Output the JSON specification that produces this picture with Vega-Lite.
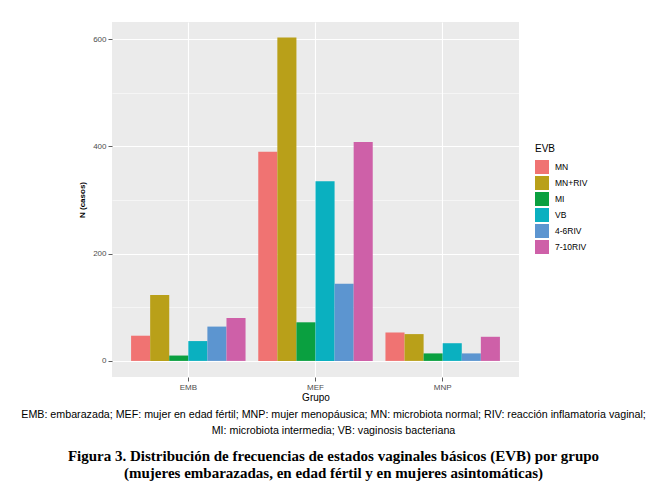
{
  "$schema": "https://vega.github.io/schema/vega-lite/v6.json",
  "autosize": "none",
  "width": 407,
  "height": 355,
  "padding": {"left": 112, "top": 22, "right": 143, "bottom": 110},
  "background": "white",
  "title": {
    "text": ["EMB: embarazada; MEF: mujer en edad fértil; MNP: mujer menopáusica; MN: microbiota normal; RIV: reacción inflamatoria vaginal;", "MI: microbiota intermedia; VB: vaginosis bacteriana"],
    "subtitle": ["Figura 3. Distribución de frecuencias de estados vaginales básicos (EVB) por grupo", "(mujeres embarazadas, en edad fértil y en mujeres asintomáticas)"],
    "orient": "bottom",
    "anchor": "middle",
    "frame": "group",
    "dx": 18,
    "offset": 8,
    "font": "Liberation Sans",
    "fontSize": 10.7,
    "fontWeight": "normal",
    "color": "#000000",
    "lineHeight": 16,
    "subtitleFont": "Liberation Serif",
    "subtitleFontSize": 15,
    "subtitleFontWeight": "bold",
    "subtitleColor": "#000000",
    "subtitleLineHeight": 17,
    "subtitlePadding": 12
  },
  "data": {
    "values": [
      {"Grupo": "EMB", "EVB": "MN", "N": 47},
      {"Grupo": "EMB", "EVB": "MN+RIV", "N": 123},
      {"Grupo": "EMB", "EVB": "MI", "N": 10},
      {"Grupo": "EMB", "EVB": "VB", "N": 37},
      {"Grupo": "EMB", "EVB": "4-6RIV", "N": 64},
      {"Grupo": "EMB", "EVB": "7-10RIV", "N": 80},
      {"Grupo": "MEF", "EVB": "MN", "N": 390},
      {"Grupo": "MEF", "EVB": "MN+RIV", "N": 603},
      {"Grupo": "MEF", "EVB": "MI", "N": 72},
      {"Grupo": "MEF", "EVB": "VB", "N": 335},
      {"Grupo": "MEF", "EVB": "4-6RIV", "N": 144},
      {"Grupo": "MEF", "EVB": "7-10RIV", "N": 408},
      {"Grupo": "MNP", "EVB": "MN", "N": 53},
      {"Grupo": "MNP", "EVB": "MN+RIV", "N": 50},
      {"Grupo": "MNP", "EVB": "MI", "N": 14},
      {"Grupo": "MNP", "EVB": "VB", "N": 33},
      {"Grupo": "MNP", "EVB": "4-6RIV", "N": 14},
      {"Grupo": "MNP", "EVB": "7-10RIV", "N": 45}
    ]
  },
  "mark": {"type": "bar"},
  "encoding": {
    "x": {
      "field": "Grupo",
      "type": "nominal",
      "scale": {"paddingInner": 0.1, "paddingOuter": 0.15},
      "axis": {
        "title": "Grupo",
        "labelAngle": 0,
        "grid": true,
        "bandPosition": 0.5,
        "gridColor": "#FFFFFF",
        "gridWidth": 1.1,
        "domain": false,
        "ticks": true,
        "tickColor": "#333333",
        "tickSize": 4,
        "tickWidth": 0.8,
        "labelFont": "Liberation Sans",
        "labelFontSize": 8,
        "labelColor": "#4D4D4D",
        "labelPadding": 2,
        "titleFont": "Liberation Sans",
        "titleFontSize": 10,
        "titleFontWeight": "normal",
        "titleColor": "#000000",
        "titlePadding": 1
      }
    },
    "xOffset": {
      "field": "EVB",
      "type": "nominal",
      "sort": ["MN", "MN+RIV", "MI", "VB", "4-6RIV", "7-10RIV"],
      "scale": {"paddingInner": 0, "paddingOuter": 0}
    },
    "y": {
      "field": "N",
      "type": "quantitative",
      "scale": {"domain": [-30, 632], "nice": false, "zero": false},
      "axis": {
        "title": "N (casos)",
        "values": [0, 100, 200, 300, 400, 500, 600],
        "labelExpr": "datum.value % 200 == 0 ? datum.label : ''",
        "grid": true,
        "gridColor": "#FFFFFF",
        "gridWidth": {"condition": {"test": "datum.value % 200 != 0", "value": 0.5}, "value": 1.1},
        "domain": false,
        "tickColor": "#333333",
        "tickOpacity": {"condition": {"test": "datum.value % 200 != 0", "value": 0}, "value": 1},
        "tickSize": 4,
        "tickWidth": 0.8,
        "labelFont": "Liberation Sans",
        "labelFontSize": 8,
        "labelColor": "#4D4D4D",
        "labelPadding": 2,
        "titleFont": "Liberation Sans",
        "titleFontSize": 8,
        "titleFontWeight": "bold",
        "titleColor": "#000000",
        "titlePadding": 6
      }
    },
    "color": {
      "field": "EVB",
      "type": "nominal",
      "scale": {
        "domain": ["MN", "MN+RIV", "MI", "VB", "4-6RIV", "7-10RIV"],
        "range": ["#F07372", "#B9A019", "#0AA040", "#0AB0C0", "#5C95D0", "#CE60A8"]
      },
      "legend": {
        "title": "EVB",
        "orient": "none",
        "legendX": 423,
        "legendY": 122,
        "titleFont": "Liberation Sans",
        "titleFontSize": 10,
        "titleFontWeight": "normal",
        "titleColor": "#000000",
        "titlePadding": 6,
        "labelFont": "Liberation Sans",
        "labelFontSize": 8.5,
        "labelColor": "#000000",
        "symbolType": "square",
        "symbolSize": 196,
        "symbolStrokeWidth": 0,
        "rowPadding": 2,
        "labelOffset": 6,
        "padding": 0
      }
    }
  },
  "config": {
    "view": {"fill": "#EBEBEB", "stroke": null}
  }
}
